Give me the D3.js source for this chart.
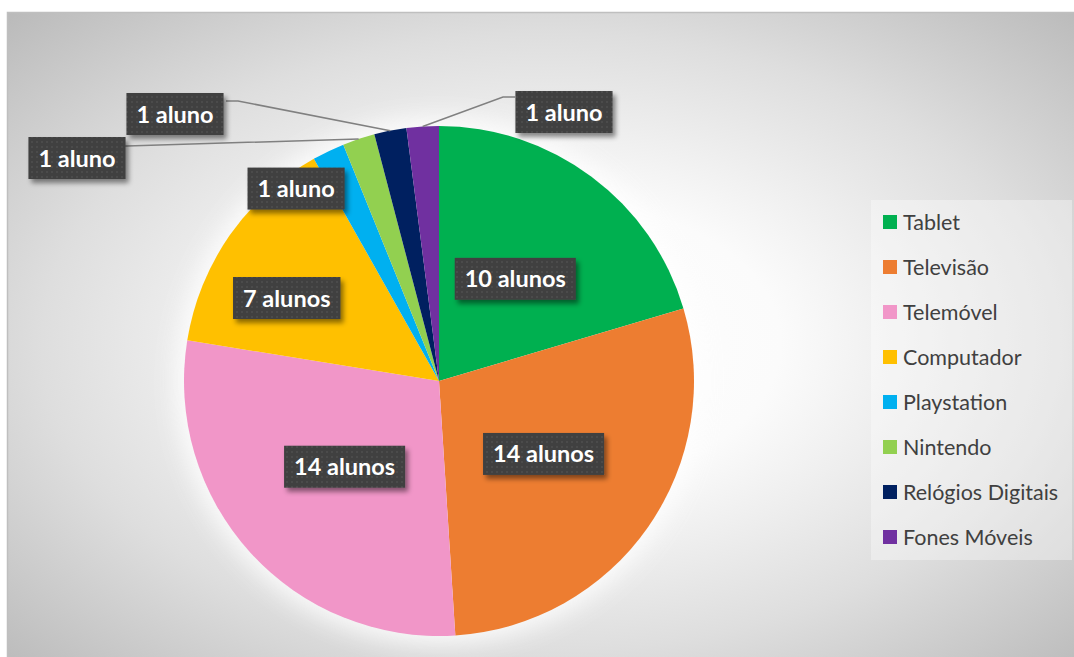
<!DOCTYPE html>
<html>
<head>
<meta charset="utf-8">
<script src="https://cdn.jsdelivr.net/npm/d3@7"></script>
<style>
  html, body { margin: 0; padding: 0; background: #ffffff; }
  svg { display: block; }
</style>
</head>
<body>
<svg id="chart" width="1074" height="657"></svg>
<script>
// ---- data ----
const categories = ["Tablet", "Televisão", "Telemóvel", "Computador", "Playstation", "Nintendo", "Relógios Digitais", "Fones Móveis"];
const values = [10, 14, 14, 7, 1, 1, 1, 1];
const labels = ["10 alunos", "14 alunos", "14 alunos", "7 alunos", "1 aluno", "1 aluno", "1 aluno", "1 aluno"];
const colors = ["#00B050", "#ED7D31", "#F196C8", "#FFC000", "#00B0F0", "#92D050", "#002060", "#7030A0"];

// ---- layout (not data) ----
const W = 1074, H = 657;
const cx = 439, cy = 381, R = 255;
const labelLayout = [
  { type: "in", r: 0.50 },
  { type: "in", r: 0.50 },
  { type: "in", r: 0.50 },
  { type: "in", r: 0.68, da: -0.11 },
  { type: "in", r: 0.94, da: -0.19 },
  { type: "out", box: [77, 158], elbow: [127, 146], side: "left" },
  { type: "out", box: [175, 114], elbow: [238, 101], side: "left" },
  { type: "out", box: [564, 112], elbow: [503, 97], side: "right" }
];

const svg = d3.select("#chart");
const defs = svg.append("defs");

// background gradient
const bg = defs.append("radialGradient").attr("id", "bgGrad")
  .attr("cx", "0.5").attr("cy", "0.5").attr("r", "0.72");
bg.append("stop").attr("offset", "0").attr("stop-color", "#ffffff");
bg.append("stop").attr("offset", "0.3").attr("stop-color", "#fbfbfb");
bg.append("stop").attr("offset", "0.65").attr("stop-color", "#dedede");
bg.append("stop").attr("offset", "1").attr("stop-color", "#b8b8b8");

// glow around pie
const glow = defs.append("filter").attr("id", "glow").attr("x", "-30%").attr("y", "-30%").attr("width", "160%").attr("height", "160%");
glow.append("feGaussianBlur").attr("stdDeviation", 12);

// label box shadow
const sh = defs.append("filter").attr("id", "boxShadow").attr("x", "-20%").attr("y", "-30%").attr("width", "150%").attr("height", "180%");
sh.append("feDropShadow").attr("dx", 3).attr("dy", 4).attr("stdDeviation", 2.5)
  .attr("flood-color", "#000").attr("flood-opacity", 0.45);

// dotted texture for label boxes
const pat = defs.append("pattern").attr("id", "dots").attr("patternUnits", "userSpaceOnUse")
  .attr("width", 5).attr("height", 5);
pat.append("rect").attr("width", 5).attr("height", 5).attr("fill", "#404040");
pat.append("rect").attr("x", 1).attr("y", 1).attr("width", 2).attr("height", 2).attr("fill", "#4b4b4b");

// chart area
svg.append("rect").attr("x", 7.5).attr("y", 12.5).attr("width", 1080).attr("height", 660)
  .attr("fill", "url(#bgGrad)").attr("stroke", "#bfbfbf").attr("stroke-width", 1.5);

const g = svg.append("g").attr("transform", `translate(${cx},${cy})`);

// glow
g.append("circle").attr("r", R + 8).attr("fill", "#ffffff").attr("opacity", 0.85).attr("filter", "url(#glow)");

const pie = d3.pie().sort(null).value(d => d).startAngle(0).endAngle(2 * Math.PI);
const arcs = pie(values);
const arc = d3.arc().innerRadius(0).outerRadius(R);

g.selectAll("path.slice").data(arcs).join("path")
  .attr("class", "slice")
  .attr("d", arc)
  .attr("fill", (d, i) => colors[i]);

// labels
const labelFont = "Lato, 'Open Sans', sans-serif";
const lg = svg.append("g");

arcs.forEach((a, i) => {
  const L = labelLayout[i];
  const mid = (a.startAngle + a.endAngle) / 2;
  let bx, by;
  if (L.type === "in") {
    const ang = mid + (L.da || 0);
    bx = cx + Math.sin(ang) * R * L.r;
    by = cy - Math.cos(ang) * R * L.r;
  } else {
    bx = L.box[0]; by = L.box[1];
    const ex = cx + Math.sin(mid) * R, ey = cy - Math.cos(mid) * R;
    lg.append("polyline")
      .attr("points", [[ex, ey], L.elbow, [L.side === "left" ? L.elbow[0] - 12 : L.elbow[0] + 12, L.elbow[1]]].map(p => p.join(",")).join(" "))
      .attr("fill", "none").attr("stroke", "#808080").attr("stroke-width", 1.5);
  }
  const grp = lg.append("g");
  const t = grp.append("text")
    .attr("x", bx).attr("y", by + 8.5)
    .attr("text-anchor", "middle")
    .attr("font-family", labelFont).attr("font-weight", "bold").attr("font-size", 23.5)
    .attr("fill", "#ffffff")
    .text(labels[i]);
  const bb = t.node().getBBox();
  grp.insert("rect", "text")
    .attr("x", bx - bb.width / 2 - 10).attr("y", by - 21)
    .attr("width", bb.width + 20).attr("height", 42)
    .attr("fill", "url(#dots)").attr("filter", "url(#boxShadow)");
});

// legend
const legX = 871, legY = 200;
svg.append("rect").attr("x", legX).attr("y", legY).attr("width", 201).attr("height", 360)
  .attr("fill", "#ffffff").attr("opacity", 0.35);
const leg = svg.append("g").selectAll("g").data(categories).join("g")
  .attr("transform", (d, i) => `translate(${legX + 12},${legY + 22 + i * 45})`);
leg.append("rect").attr("x", 0).attr("y", -7).attr("width", 14).attr("height", 14)
  .attr("fill", (d, i) => colors[i]);
leg.append("text").attr("x", 20).attr("y", 7.5)
  .attr("font-family", labelFont).attr("font-size", 21.5).attr("fill", "#404040")
  .text(d => d);
</script>
</body>
</html>
